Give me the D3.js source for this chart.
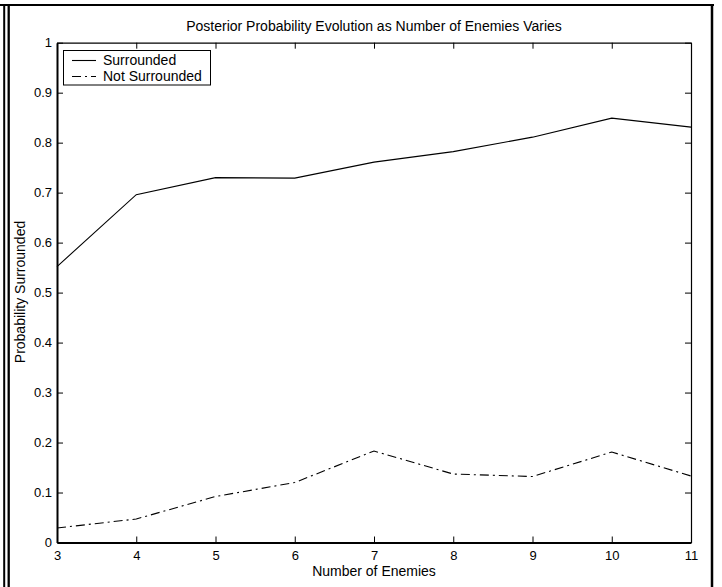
<!DOCTYPE html>
<html>
<head>
<meta charset="utf-8">
<script src="https://cdn.jsdelivr.net/npm/d3@7"></script>
<style>
    body { margin: 0; background: #fff; }
    svg { display: block; font-family: "Liberation Sans", Arial, Helvetica, sans-serif; }
    .axis path, .axis line { stroke: #000; }
    .axis text { fill: #000; font-size: 13px; font-family: "Liberation Sans", Arial, sans-serif; }
</style>
</head>
<body>
<svg id="chart" width="722" height="587"></svg>
<script>
// data
let enemies = [3, 4, 5, 6, 7, 8, 9, 10, 11];
let surrounded = [0.552, 0.696, 0.730, 0.729, 0.761, 0.782, 0.811, 0.849, 0.831];
let notSurrounded = [0.029, 0.047, 0.092, 0.120, 0.183, 0.137, 0.132, 0.181, 0.133];
let xTicks = [3, 4, 5, 6, 7, 8, 9, 10, 11];
let yTicks = [0, 0.1, 0.2, 0.3, 0.4, 0.5, 0.6, 0.7, 0.8, 0.9, 1];
let seriesNames = ["Surrounded", "Not Surrounded"];

const svg = d3.select("#chart");

// outer frame (double rule on the left)
let frame = svg.append("g").attr("stroke", "#000").attr("fill", "none");
frame.append("line").attr("x1", 0).attr("x2", 714).attr("y1", 5).attr("y2", 5).attr("stroke-width", 2.2);
frame.append("line").attr("x1", 712).attr("x2", 712).attr("y1", 4).attr("y2", 587).attr("stroke-width", 2.5);
frame.append("line").attr("x1", 4.2).attr("x2", 4.2).attr("y1", 4).attr("y2", 587).attr("stroke-width", 2);
frame.append("line").attr("x1", 8.7).attr("x2", 8.7).attr("y1", 4).attr("y2", 587).attr("stroke-width", 2.3);

const x = d3.scaleLinear().domain([3, 11]).range([57, 691]);
const y = d3.scaleLinear().domain([0, 1]).range([542.5, 42.7]);

// axes, ticks pointing inward like matlab
svg.append("g").attr("class", "axis")
    .attr("transform", "translate(0,542.5)")
    .call(d3.axisBottom(x).tickValues(xTicks).tickSizeInner(-6).tickSizeOuter(0).tickPadding(8).tickFormat(d3.format("d")))
    .call(g => g.select(".domain").attr("stroke-width", 2));

svg.append("g").attr("class", "axis")
    .attr("transform", "translate(57,0)")
    .call(d3.axisLeft(y).tickValues(yTicks).tickSizeInner(-6).tickSizeOuter(0).tickPadding(5).tickFormat(d3.format("~g")))
    .call(g => g.select(".domain").attr("stroke-width", 2));

svg.append("g").attr("class", "axis")
    .attr("transform", "translate(0,42.7)")
    .call(d3.axisTop(x).tickValues(xTicks).tickSizeInner(-6).tickSizeOuter(0).tickFormat(""))
    .call(g => g.select(".domain").attr("stroke-width", 1.2));

svg.append("g").attr("class", "axis")
    .attr("transform", "translate(691,0)")
    .call(d3.axisRight(y).tickValues(yTicks).tickSizeInner(-6).tickSizeOuter(0).tickFormat(""))
    .call(g => g.select(".domain").attr("stroke-width", 1.2));

// lines
const line = d3.line()
    .x((d, i) => x(enemies[i]))
    .y(d => y(d));

svg.append("path")
    .datum(surrounded)
    .attr("fill", "none")
    .attr("stroke", "#000")
    .attr("stroke-width", 1.1)
    .attr("d", line);

svg.append("path")
    .datum(notSurrounded)
    .attr("fill", "none")
    .attr("stroke", "#000")
    .attr("stroke-width", 1.1)
    .attr("stroke-dasharray", "9,4,2,4")
    .attr("d", line);

// titles
svg.append("text")
    .attr("x", 374).attr("y", 31)
    .attr("text-anchor", "middle")
    .style("font-size", "14px")
    .text("Posterior Probability Evolution as Number of Enemies Varies");

svg.append("text")
    .attr("x", 374).attr("y", 576)
    .attr("text-anchor", "middle")
    .style("font-size", "14px")
    .text("Number of Enemies");

svg.append("text")
    .attr("transform", "translate(25,292) rotate(-90)")
    .attr("text-anchor", "middle")
    .style("font-size", "14px")
    .text("Probability Surrounded");

// legend
let legend = svg.append("g");
legend.append("rect")
    .attr("x", 63.5).attr("y", 50.5)
    .attr("width", 147).attr("height", 34.5)
    .attr("fill", "#fff").attr("stroke", "#000").attr("stroke-width", 1);

let dashes = [null, "9,4,2,4"];
legend.selectAll(".item")
    .data(seriesNames)
    .enter()
    .append("g")
    .attr("class", "item")
    .attr("transform", function(d, i) {
        return "translate(0," + (60.5 + i * 16) + ")";
    })
    .each(function(d, i) {
        let g = d3.select(this);
        g.append("line")
            .attr("x1", 72).attr("x2", 96)
            .attr("stroke", "#000")
            .attr("stroke-width", 1.1)
            .attr("stroke-dasharray", dashes[i]);
        g.append("text")
            .attr("x", 103).attr("y", 4.8)
            .style("font-size", "14px")
            .text(d);
    });
</script>
</body>
</html>
